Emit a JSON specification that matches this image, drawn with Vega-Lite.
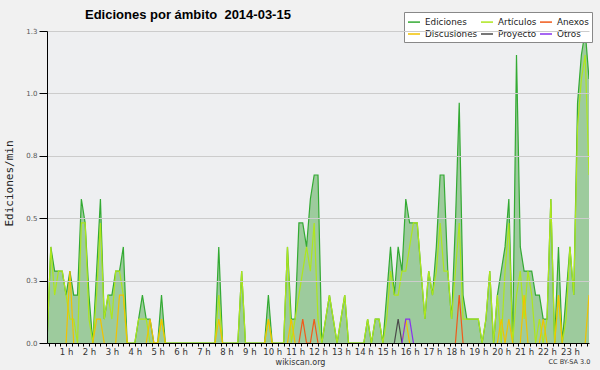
{
"$schema": "https://vega.github.io/schema/vega-lite/v6.json",
"width": 542, "height": 312,
"autosize": {"type": "none"},
"padding": {"left": 47, "top": 31, "right": 11, "bottom": 27},
"background": "#f1f1f1",
"config": {"view": {"stroke": null, "fill": "#eeeff1"}},
"title": {"text": "Ediciones por ámbito\u00a0 2014-03-15", "anchor": "start", "frame": "group", "dx": 38, "dy": 32, "offset": 12, "baseline": "alphabetic", "font": "Liberation Sans", "fontSize": 13, "fontWeight": "bold", "color": "#000"},
"data": {"values": [
{"t":0.167,"Ediciones":0,"Artículos":0},
{"t":0.333,"Ediciones":0.385,"Artículos":0.385},
{"t":0.5,"Ediciones":0.288,"Artículos":0.192},
{"t":0.667,"Ediciones":0.288,"Artículos":0.288},
{"t":0.833,"Ediciones":0.288,"Artículos":0.288},
{"t":1,"Ediciones":0.192,"Artículos":0.192,"Discusiones":0},
{"t":1.167,"Ediciones":0.288,"Artículos":0.096,"Discusiones":0.288},
{"t":1.333,"Ediciones":0.192,"Artículos":0.096,"Discusiones":0},
{"t":1.5,"Ediciones":0.192,"Artículos":0},
{"t":1.667,"Ediciones":0.577,"Artículos":0.481},
{"t":1.833,"Ediciones":0.481,"Artículos":0.481},
{"t":2,"Ediciones":0.192,"Artículos":0.096},
{"t":2.167,"Ediciones":0,"Artículos":0,"Discusiones":0},
{"t":2.333,"Ediciones":0.288,"Artículos":0.192,"Discusiones":0.096},
{"t":2.5,"Ediciones":0.577,"Artículos":0.481,"Discusiones":0.096},
{"t":2.667,"Ediciones":0.096,"Artículos":0.096,"Discusiones":0},
{"t":2.833,"Ediciones":0.192,"Artículos":0.192},
{"t":3,"Ediciones":0.192,"Artículos":0.096},
{"t":3.167,"Ediciones":0.288,"Artículos":0.288,"Discusiones":0},
{"t":3.333,"Ediciones":0.288,"Artículos":0.288,"Discusiones":0.192},
{"t":3.5,"Ediciones":0.385,"Artículos":0.192,"Discusiones":0.192},
{"t":3.667,"Ediciones":0,"Artículos":0,"Discusiones":0},
{"t":3.833,"Ediciones":0,"Artículos":0},
{"t":4,"Ediciones":0,"Artículos":0},
{"t":4.167,"Ediciones":0.096,"Artículos":0.096},
{"t":4.333,"Ediciones":0.192,"Artículos":0.096},
{"t":4.5,"Ediciones":0.096,"Artículos":0.096,"Discusiones":0},
{"t":4.667,"Ediciones":0.096,"Artículos":0,"Discusiones":0.096},
{"t":4.833,"Ediciones":0,"Artículos":0,"Discusiones":0},
{"t":5,"Ediciones":0,"Artículos":0,"Discusiones":0},
{"t":5.167,"Ediciones":0.192,"Artículos":0.096,"Discusiones":0.096},
{"t":5.333,"Ediciones":0,"Artículos":0,"Discusiones":0},
{"t":5.5,"Ediciones":0,"Artículos":0},
{"t":5.667,"Ediciones":0,"Artículos":0},
{"t":5.833,"Ediciones":0,"Artículos":0},
{"t":6,"Ediciones":0,"Artículos":0},
{"t":6.167,"Ediciones":0,"Artículos":0},
{"t":6.333,"Ediciones":0,"Artículos":0},
{"t":6.5,"Ediciones":0,"Artículos":0},
{"t":6.667,"Ediciones":0,"Artículos":0},
{"t":6.833,"Ediciones":0,"Artículos":0},
{"t":7,"Ediciones":0,"Artículos":0},
{"t":7.167,"Ediciones":0,"Artículos":0},
{"t":7.333,"Ediciones":0,"Artículos":0},
{"t":7.5,"Ediciones":0,"Artículos":0,"Discusiones":0},
{"t":7.667,"Ediciones":0.385,"Artículos":0.192,"Discusiones":0.096},
{"t":7.833,"Ediciones":0,"Artículos":0,"Discusiones":0},
{"t":8,"Ediciones":0,"Artículos":0},
{"t":8.167,"Ediciones":0,"Artículos":0},
{"t":8.333,"Ediciones":0,"Artículos":0},
{"t":8.5,"Ediciones":0,"Artículos":0},
{"t":8.667,"Ediciones":0.288,"Artículos":0.288},
{"t":8.833,"Ediciones":0,"Artículos":0},
{"t":9,"Ediciones":0,"Artículos":0},
{"t":9.167,"Ediciones":0,"Artículos":0},
{"t":9.333,"Ediciones":0,"Artículos":0},
{"t":9.5,"Ediciones":0,"Artículos":0},
{"t":9.667,"Ediciones":0,"Artículos":0,"Discusiones":0},
{"t":9.833,"Ediciones":0.192,"Artículos":0.096,"Discusiones":0.096},
{"t":10,"Ediciones":0,"Artículos":0,"Discusiones":0},
{"t":10.167,"Ediciones":0,"Artículos":0},
{"t":10.333,"Ediciones":0,"Artículos":0},
{"t":10.5,"Ediciones":0,"Artículos":0},
{"t":10.667,"Ediciones":0.385,"Artículos":0.385,"Discusiones":0},
{"t":10.833,"Ediciones":0.096,"Artículos":0,"Discusiones":0.096},
{"t":11,"Ediciones":0.096,"Artículos":0.096,"Discusiones":0},
{"t":11.167,"Ediciones":0.481,"Artículos":0.192,"Anexos":0},
{"t":11.333,"Ediciones":0.481,"Artículos":0.288,"Anexos":0.096},
{"t":11.5,"Ediciones":0.385,"Artículos":0.385,"Anexos":0},
{"t":11.667,"Ediciones":0.577,"Artículos":0.288,"Anexos":0},
{"t":11.833,"Ediciones":0.673,"Artículos":0.481,"Anexos":0.096},
{"t":12,"Ediciones":0.673,"Artículos":0.096,"Anexos":0},
{"t":12.167,"Ediciones":0,"Artículos":0},
{"t":12.333,"Ediciones":0.096,"Artículos":0.096},
{"t":12.5,"Ediciones":0.192,"Artículos":0.192},
{"t":12.667,"Ediciones":0.096,"Artículos":0.096},
{"t":12.833,"Ediciones":0,"Artículos":0},
{"t":13,"Ediciones":0.096,"Artículos":0.096},
{"t":13.167,"Ediciones":0.192,"Artículos":0.192},
{"t":13.333,"Ediciones":0,"Artículos":0},
{"t":13.5,"Ediciones":0,"Artículos":0},
{"t":13.667,"Ediciones":0,"Artículos":0},
{"t":13.833,"Ediciones":0,"Artículos":0},
{"t":14,"Ediciones":0,"Artículos":0},
{"t":14.167,"Ediciones":0.096,"Artículos":0.096},
{"t":14.333,"Ediciones":0,"Artículos":0},
{"t":14.5,"Ediciones":0.096,"Artículos":0.096},
{"t":14.667,"Ediciones":0.096,"Artículos":0.096},
{"t":14.833,"Ediciones":0,"Artículos":0},
{"t":15,"Ediciones":0.192,"Artículos":0.096},
{"t":15.167,"Ediciones":0.385,"Artículos":0.288},
{"t":15.333,"Ediciones":0.192,"Artículos":0.192,"Proyecto":0},
{"t":15.5,"Ediciones":0.385,"Artículos":0.192,"Proyecto":0.096},
{"t":15.667,"Ediciones":0.288,"Artículos":0.288,"Proyecto":0,"Discusiones":0,"Otros":0},
{"t":15.833,"Ediciones":0.577,"Artículos":0.288,"Discusiones":0.096,"Otros":0.096},
{"t":16,"Ediciones":0.481,"Artículos":0.385,"Discusiones":0,"Otros":0.096},
{"t":16.167,"Ediciones":0.481,"Artículos":0.481,"Otros":0},
{"t":16.333,"Ediciones":0.481,"Artículos":0.481},
{"t":16.5,"Ediciones":0.288,"Artículos":0.288},
{"t":16.667,"Ediciones":0.096,"Artículos":0.096},
{"t":16.833,"Ediciones":0.288,"Artículos":0.288},
{"t":17,"Ediciones":0.192,"Artículos":0.192},
{"t":17.167,"Ediciones":0.385,"Artículos":0.288},
{"t":17.333,"Ediciones":0.673,"Artículos":0.481},
{"t":17.5,"Ediciones":0.673,"Artículos":0.288},
{"t":17.667,"Ediciones":0.288,"Artículos":0.288},
{"t":17.833,"Ediciones":0.096,"Artículos":0.096},
{"t":18,"Ediciones":0.481,"Artículos":0.288,"Anexos":0},
{"t":18.167,"Ediciones":0.962,"Artículos":0.481,"Anexos":0.192},
{"t":18.333,"Ediciones":0.192,"Artículos":0.096,"Anexos":0},
{"t":18.5,"Ediciones":0.096,"Artículos":0.096},
{"t":18.667,"Ediciones":0.096,"Artículos":0.096},
{"t":18.833,"Ediciones":0.096,"Artículos":0.096},
{"t":19,"Ediciones":0.096,"Artículos":0.096},
{"t":19.167,"Ediciones":0,"Artículos":0},
{"t":19.333,"Ediciones":0.096,"Artículos":0.096},
{"t":19.5,"Ediciones":0.288,"Artículos":0.288},
{"t":19.667,"Ediciones":0,"Artículos":0},
{"t":19.833,"Ediciones":0.192,"Artículos":0.192,"Discusiones":0},
{"t":20,"Ediciones":0.288,"Artículos":0,"Discusiones":0.096},
{"t":20.167,"Ediciones":0.385,"Artículos":0.288,"Discusiones":0},
{"t":20.333,"Ediciones":0.577,"Artículos":0.481,"Discusiones":0.096},
{"t":20.5,"Ediciones":0,"Artículos":0,"Discusiones":0},
{"t":20.667,"Ediciones":1.154,"Artículos":0.192},
{"t":20.833,"Ediciones":0.385,"Artículos":0.288,"Discusiones":0},
{"t":21,"Ediciones":0.288,"Artículos":0.096,"Discusiones":0.192},
{"t":21.167,"Ediciones":0.288,"Artículos":0.288,"Discusiones":0},
{"t":21.333,"Ediciones":0.288,"Artículos":0.192},
{"t":21.5,"Ediciones":0.192,"Artículos":0},
{"t":21.667,"Ediciones":0.192,"Artículos":0.096,"Discusiones":0},
{"t":21.833,"Ediciones":0.096,"Artículos":0,"Discusiones":0.096},
{"t":22,"Ediciones":0.096,"Artículos":0.096,"Discusiones":0},
{"t":22.167,"Ediciones":0.577,"Artículos":0.577},
{"t":22.333,"Ediciones":0,"Artículos":0,"Discusiones":0},
{"t":22.5,"Ediciones":0.385,"Artículos":0.192,"Discusiones":0.192},
{"t":22.667,"Ediciones":0,"Artículos":0,"Discusiones":0},
{"t":22.833,"Ediciones":0.192,"Artículos":0.096},
{"t":23,"Ediciones":0.385,"Artículos":0.385},
{"t":23.167,"Ediciones":0.192,"Artículos":0.192},
{"t":23.333,"Ediciones":0.962,"Artículos":0.865},
{"t":23.5,"Ediciones":1.154,"Artículos":1.058},
{"t":23.667,"Ediciones":1.25,"Artículos":1.154,"Discusiones":0},
{"t":23.833,"Ediciones":1.058,"Artículos":0.673,"Discusiones":0.192}
]},
"transform": [{"fold": ["Ediciones", "Artículos", "Discusiones", "Anexos", "Proyecto", "Otros"], "as": ["serie", "v"]}],
"layer": [
{
"transform": [{"filter": "datum.serie === 'Ediciones'"}],
"mark": {"type": "area", "color": "#9dcb9d", "opacity": 1, "clip": true},
"encoding": {
"x": {"field": "t", "type": "quantitative", "scale": {"domain": [0.167, 23.833], "nice": false, "zero": false},
"axis": {"orient": "bottom", "zindex": 1, "grid": false, "domainColor": "#000", "tickColor": "#000", "tickSize": 3,
"values": [0.25,0.5,0.75,1,1.25,1.5,1.75,2,2.25,2.5,2.75,3,3.25,3.5,3.75,4,4.25,4.5,4.75,5,5.25,5.5,5.75,6,6.25,6.5,6.75,7,7.25,7.5,7.75,8,8.25,8.5,8.75,9,9.25,9.5,9.75,10,10.25,10.5,10.75,11,11.25,11.5,11.75,12,12.25,12.5,12.75,13,13.25,13.5,13.75,14,14.25,14.5,14.75,15,15.25,15.5,15.75,16,16.25,16.5,16.75,17,17.25,17.5,17.75,18,18.25,18.5,18.75,19,19.25,19.5,19.75,20,20.25,20.5,20.75,21,21.25,21.5,21.75,22,22.25,22.5,22.75,23,23.25,23.5,23.75],
"labelExpr": "abs(datum.value - round(datum.value)) < 0.001 ? round(datum.value) + ' h' : ''",
"labelFont": "DejaVu Sans", "labelFontSize": 8.5, "labelColor": "#333", "labelPadding": 1, "labelOverlap": false, "labelFlush": false,
"title": "wikiscan.org", "titleX": 253, "titleY": 21, "titleAlign": "center", "titleBaseline": "alphabetic", "titleFont": "DejaVu Sans", "titleFontSize": 8, "titleFontWeight": "normal", "titleColor": "#333"}},
"y": {"field": "v", "type": "quantitative", "scale": {"domain": [0, 1.25], "nice": false},
"axis": {"zindex": 1, "values": [0,0.0625,0.125,0.1875,0.25,0.3125,0.375,0.4375,0.5,0.5625,0.625,0.6875,0.75,0.8125,0.875,0.9375,1,1.0625,1.125,1.1875,1.25],
"labelExpr": "abs(datum.value*4 - round(datum.value*4)) < 0.001 ? format(datum.value, '.1f') : ''",
"tickSize": {"condition": {"test": "abs(datum.value*4 - round(datum.value*4)) < 0.001", "value": 8}, "value": 4},
"gridOpacity": {"condition": {"test": "abs(datum.value*4 - round(datum.value*4)) < 0.001 && datum.value > 0", "value": 1}, "value": 0},
"grid": true, "gridColor": "#cccccc", "domainColor": "#000", "tickColor": "#000",
"labelFont": "DejaVu Sans", "labelFontSize": 7, "labelColor": "#555", "labelPadding": 2, "labelOverlap": false, "labelFlush": false,
"title": "Ediciones/min", "titleX": -38, "titleY": 152, "titleAlign": "center", "titleBaseline": "middle", "titleFont": "DejaVu Sans Mono", "titleFontSize": 11, "titleFontWeight": "normal", "titleColor": "#222"}}
}
},
{
"mark": {"type": "line", "strokeWidth": 1.2, "clip": true},
"encoding": {
"x": {"field": "t", "type": "quantitative",
"axis": {"orient": "bottom", "domain": false, "ticks": false, "labels": false, "grid": false,
"title": "CC BY-SA 3.0", "titleX": 522, "titleY": 20, "titleAlign": "center", "titleBaseline": "alphabetic", "titleFont": "DejaVu Sans", "titleFontSize": 6.5, "titleFontWeight": "normal", "titleColor": "#333"}},
"y": {"field": "v", "type": "quantitative"},
"color": {"field": "serie", "type": "nominal",
"scale": {"domain": ["Ediciones", "Artículos", "Anexos", "Discusiones", "Proyecto", "Otros"], "range": ["#33aa33", "#aee61e", "#f05a1a", "#f2c200", "#4a4a4a", "#8833ee"]},
"legend": {"orient": "none", "legendX": 357, "legendY": -19, "columns": 3, "direction": "horizontal", "title": null, "fillColor": "#ffffff", "strokeColor": "#888", "padding": 3, "symbolType": "stroke", "symbolSize": 144, "symbolStrokeWidth": 1.5, "labelFont": "DejaVu Sans", "labelFontSize": 8.8, "labelColor": "#222", "labelOffset": 4, "columnPadding": 0, "rowPadding": 0}}
}
}
],
"resolve": {"axis": {"x": "independent"}}
}
